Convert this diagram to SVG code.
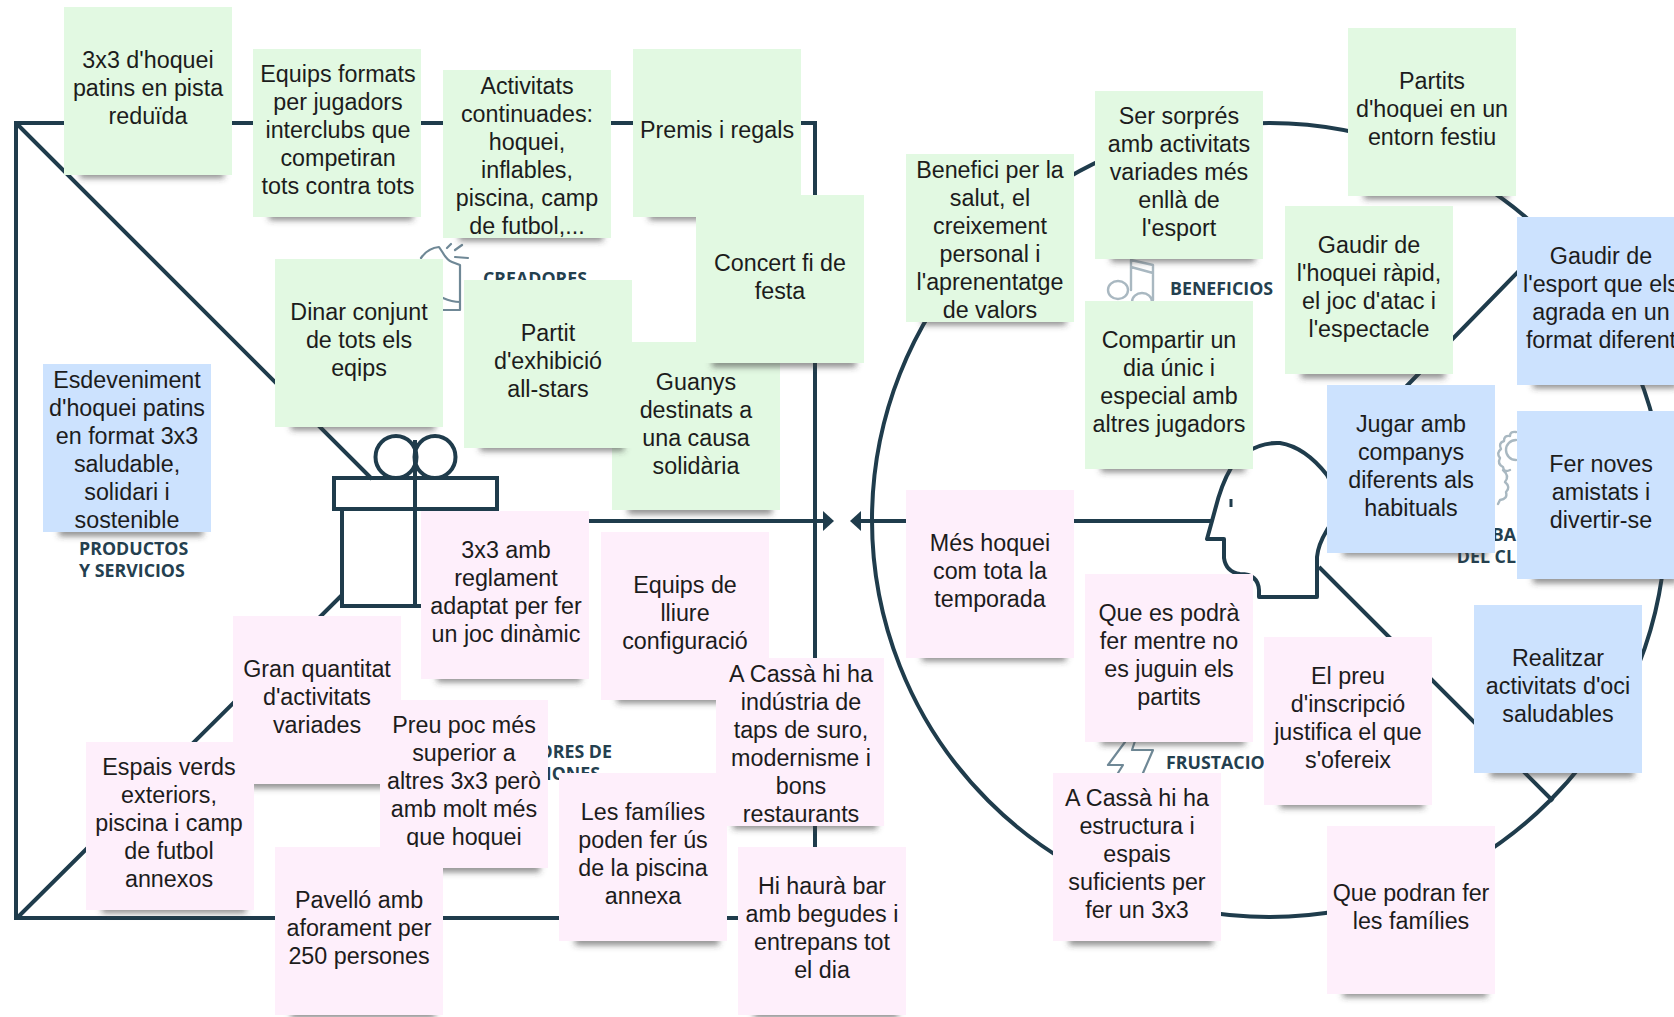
<svg xmlns="http://www.w3.org/2000/svg" width="1674" height="1017" viewBox="0 0 1674 1017">
<style>
.bg{fill:#fff}
.ln{fill:none;stroke:#1f3c4c;stroke-width:4}
.ic{fill:none;stroke:#6f8896;stroke-width:2.2;stroke-linecap:round;stroke-linejoin:round}
.ic2{fill:none;stroke:#a9b8c1;stroke-width:2.4;stroke-linecap:round;stroke-linejoin:round}
.lb{font-family:"Open Sans","Liberation Sans",sans-serif;font-weight:700;font-size:17.8px;fill:#24404f}
.g{fill:#e2f9e2}.b{fill:#cce2fe}.p{fill:#feeffb}
.sh{fill:#3c3c3c;fill-opacity:.62;filter:url(#bl)}
.t{font-family:"Liberation Sans",Arial,sans-serif;font-size:23.3px;fill:#1c1c1c;text-anchor:middle}
</style>
<defs>
<filter id="bl" x="-10%" y="-100%" width="120%" height="300%"><feGaussianBlur stdDeviation="3"/></filter>
<marker id="ah" markerUnits="userSpaceOnUse" markerWidth="14" markerHeight="24" refX="1" refY="12" orient="auto"><path d="M0 2L11 12L0 22Z" fill="#1f3c4c"/></marker>
</defs>
<rect class="bg" width="1674" height="1017"/>
<g id="connectors">
<rect class="ln" x="16" y="123" width="799" height="795"/>
<path class="ln" d="M18 125L372 479M18 917L342 595"/>
<circle class="ln" cx="1269" cy="520" r="397"/>
<path class="ln" d="M1395 398L1550 239M1319 567L1553 801"/>
<path class="ln" d="M490 521H824" marker-end="url(#ah)"/>
<path class="ln" d="M1212 521H860" marker-end="url(#ah)"/>
</g>
<g id="gift-icon">
<ellipse class="ln" cx="396" cy="457" rx="20.5" ry="21"/>
<ellipse class="ln" cx="435" cy="457" rx="20.5" ry="21"/>
<rect class="ln" x="334" y="478" width="163" height="31" fill="#fff"/>
<rect class="ln" x="342" y="509" width="146" height="97"/>
<path class="ln" d="M415 440V606"/>
</g>
<g id="head-icon">
<path class="ln" d="M1212 521L1207 539H1224V558Q1226 572 1240 574Q1258 574 1259 590V597H1317V557Q1318 545 1327 530Q1345 505 1327 475Q1305 447 1280 443Q1262 442 1245 453Q1234 460 1231 468C1225 478 1220 490 1215 510Z" stroke-linejoin="round"/>
<path d="M1231 499V507" stroke="#1f3c4c" stroke-width="3" fill="none"/>
</g>
<g id="section-labels">
<path class="ic" d="M421 258Q428 248 439 247L443 253Q447 260 452 262L460 265V310H443M443 298Q452 302 460 302M447 248L451 244M455 250L462 245M455 257L468 258"/>
<text class="lb" x="483" y="285">CREADORES</text>
<path class="ic2" d="M1131 290V260L1153 265V300M1131 267L1153 273M1128 290a10 9 0 1 1-20 0a10 9 0 1 1 20 0M1132 302a10 9 0 0 1 20 0"/>
<text class="lb" x="1170" y="295">BENEFICIOS</text>
<text class="lb" x="79" y="555">PRODUCTOS</text>
<text class="lb" x="79" y="577">Y SERVICIOS</text>
<text class="lb" x="612" y="758" text-anchor="end">ORES DE</text>
<text class="lb" x="600" y="780" text-anchor="end">IONES</text>
<path class="ic" d="M1125 742L1108 765H1123L1118 773M1135 741L1132 750H1153L1143 773"/>
<text class="lb" x="1166" y="769">FRUSTACIO</text>
<path class="ic2" d="M1516 432Q1510 431 1510 436Q1504 435 1504 441Q1498 443 1501 449Q1496 453 1500 458Q1497 464 1503 467Q1504 473 1510 470M1516 440a10 10 0 0 0 0 20M1503 470Q1510 476 1505 482Q1511 487 1506 492Q1508 499 1500 500L1498 504"/>
<text class="lb" x="1516" y="541" text-anchor="end">BA</text>
<text class="lb" x="1516" y="563" text-anchor="end">DEL CL</text>
</g>
<g id="n-guanys"><rect class="sh" x="628" y="506" width="144" height="8"/><rect class="g" x="612" y="342" width="168" height="168"/><text class="t" y="390"><tspan x="696">Guanys</tspan><tspan x="696" dy="28">destinats a</tspan><tspan x="696" dy="28">una causa</tspan><tspan x="696" dy="28">solidària</tspan></text></g>
<g id="n-3x3"><rect class="sh" x="80" y="170" width="144" height="8"/><rect class="g" x="64" y="7" width="168" height="168"/><text class="t" y="68"><tspan x="148">3x3 d'hoquei</tspan><tspan x="148" dy="28">patins en pista</tspan><tspan x="148" dy="28">reduïda</tspan></text></g>
<g id="n-equips"><rect class="sh" x="269" y="212" width="144" height="8"/><rect class="g" x="253" y="49" width="168" height="168"/><text class="t" y="82"><tspan x="338">Equips formats</tspan><tspan x="338" dy="28">per jugadors</tspan><tspan x="338" dy="28">interclubs que</tspan><tspan x="338" dy="28">competiran</tspan><tspan x="338" dy="28">tots contra tots</tspan></text></g>
<g id="n-activitats"><rect class="sh" x="459" y="233" width="144" height="8"/><rect class="g" x="443" y="70" width="168" height="168"/><text class="t" y="94"><tspan x="527">Activitats</tspan><tspan x="527" dy="28">continuades:</tspan><tspan x="527" dy="28">hoquei,</tspan><tspan x="527" dy="28">inflables,</tspan><tspan x="527" dy="28">piscina, camp</tspan><tspan x="527" dy="28">de futbol,...</tspan></text></g>
<g id="n-premis"><rect class="sh" x="649" y="212" width="144" height="8"/><rect class="g" x="633" y="49" width="168" height="168"/><text class="t" x="717" y="138">Premis i regals</text></g>
<g id="n-concert"><rect class="sh" x="712" y="359" width="144" height="8"/><rect class="g" x="696" y="195" width="168" height="168"/><text class="t" y="271"><tspan x="780">Concert fi de</tspan><tspan x="780" dy="28">festa</tspan></text></g>
<g id="n-dinar"><rect class="sh" x="291" y="422" width="144" height="8"/><rect class="g" x="275" y="259" width="168" height="168"/><text class="t" y="320"><tspan x="359">Dinar conjunt</tspan><tspan x="359" dy="28">de tots els</tspan><tspan x="359" dy="28">eqips</tspan></text></g>
<g id="n-partit"><rect class="sh" x="480" y="443" width="144" height="8"/><rect class="g" x="464" y="280" width="168" height="168"/><text class="t" y="341"><tspan x="548">Partit</tspan><tspan x="548" dy="28">d'exhibició</tspan><tspan x="548" dy="28">all-stars</tspan></text></g>
<g id="n-esdeveniment"><rect class="sh" x="59" y="528" width="144" height="8"/><rect class="b" x="43" y="364" width="168" height="168"/><text class="t" y="388"><tspan x="127">Esdeveniment</tspan><tspan x="127" dy="28">d'hoquei patins</tspan><tspan x="127" dy="28">en format 3x3</tspan><tspan x="127" dy="28">saludable,</tspan><tspan x="127" dy="28">solidari i</tspan><tspan x="127" dy="28">sostenible</tspan></text></g>
<g id="n-reglament"><rect class="sh" x="437" y="674" width="144" height="8"/><rect class="p" x="421" y="511" width="168" height="168"/><text class="t" y="558"><tspan x="506">3x3 amb</tspan><tspan x="506" dy="28">reglament</tspan><tspan x="506" dy="28">adaptat per fer</tspan><tspan x="506" dy="28">un joc dinàmic</tspan></text></g>
<g id="n-lliure"><rect class="sh" x="617" y="695" width="144" height="8"/><rect class="p" x="601" y="532" width="168" height="168"/><text class="t" y="593"><tspan x="685">Equips de</tspan><tspan x="685" dy="28">lliure</tspan><tspan x="685" dy="28">configuració</tspan></text></g>
<g id="n-gran"><rect class="sh" x="249" y="780" width="144" height="8"/><rect class="p" x="233" y="616" width="168" height="168"/><text class="t" y="677"><tspan x="317">Gran quantitat</tspan><tspan x="317" dy="28">d'activitats</tspan><tspan x="317" dy="28">variades</tspan></text></g>
<g id="n-preu"><rect class="sh" x="396" y="864" width="144" height="8"/><rect class="p" x="380" y="700" width="168" height="168"/><text class="t" y="733"><tspan x="464">Preu poc més</tspan><tspan x="464" dy="28">superior a</tspan><tspan x="464" dy="28">altres 3x3 però</tspan><tspan x="464" dy="28">amb molt més</tspan><tspan x="464" dy="28">que hoquei</tspan></text></g>
<g id="n-cassa1"><rect class="sh" x="733" y="821" width="144" height="8"/><rect class="p" x="716" y="658" width="168" height="168"/><text class="t" y="682"><tspan x="801">A Cassà hi ha</tspan><tspan x="801" dy="28">indústria de</tspan><tspan x="801" dy="28">taps de suro,</tspan><tspan x="801" dy="28">modernisme i</tspan><tspan x="801" dy="28">bons</tspan><tspan x="801" dy="28">restaurants</tspan></text></g>
<g id="n-espais"><rect class="sh" x="102" y="905" width="144" height="8"/><rect class="p" x="86" y="742" width="168" height="168"/><text class="t" y="775"><tspan x="169">Espais verds</tspan><tspan x="169" dy="28">exteriors,</tspan><tspan x="169" dy="28">piscina i camp</tspan><tspan x="169" dy="28">de futbol</tspan><tspan x="169" dy="28">annexos</tspan></text></g>
<g id="n-pavello"><rect class="sh" x="291" y="1010" width="144" height="8"/><rect class="p" x="275" y="847" width="168" height="168"/><text class="t" y="908"><tspan x="359">Pavelló amb</tspan><tspan x="359" dy="28">aforament per</tspan><tspan x="359" dy="28">250 persones</tspan></text></g>
<g id="n-families"><rect class="sh" x="575" y="937" width="144" height="8"/><rect class="p" x="559" y="773" width="168" height="168"/><text class="t" y="820"><tspan x="643">Les famílies</tspan><tspan x="643" dy="28">poden fer ús</tspan><tspan x="643" dy="28">de la piscina</tspan><tspan x="643" dy="28">annexa</tspan></text></g>
<g id="n-bar"><rect class="sh" x="754" y="1010" width="144" height="8"/><rect class="p" x="738" y="847" width="168" height="168"/><text class="t" y="894"><tspan x="822">Hi haurà bar</tspan><tspan x="822" dy="28">amb begudes i</tspan><tspan x="822" dy="28">entrepans tot</tspan><tspan x="822" dy="28">el dia</tspan></text></g>
<g id="n-benefici"><rect class="sh" x="922" y="317" width="144" height="8"/><rect class="g" x="906" y="154" width="168" height="168"/><text class="t" y="178"><tspan x="990">Benefici per la</tspan><tspan x="990" dy="28">salut, el</tspan><tspan x="990" dy="28">creixement</tspan><tspan x="990" dy="28">personal i</tspan><tspan x="990" dy="28">l'aprenentatge</tspan><tspan x="990" dy="28">de valors</tspan></text></g>
<g id="n-sorpres"><rect class="sh" x="1111" y="254" width="144" height="8"/><rect class="g" x="1095" y="91" width="168" height="168"/><text class="t" y="124"><tspan x="1179">Ser sorprés</tspan><tspan x="1179" dy="28">amb activitats</tspan><tspan x="1179" dy="28">variades més</tspan><tspan x="1179" dy="28">enllà de</tspan><tspan x="1179" dy="28">l'esport</tspan></text></g>
<g id="n-festiu"><rect class="sh" x="1364" y="191" width="144" height="8"/><rect class="g" x="1348" y="28" width="168" height="168"/><text class="t" y="89"><tspan x="1432">Partits</tspan><tspan x="1432" dy="28">d'hoquei en un</tspan><tspan x="1432" dy="28">entorn festiu</tspan></text></g>
<g id="n-rapid"><rect class="sh" x="1301" y="370" width="144" height="8"/><rect class="g" x="1285" y="206" width="168" height="168"/><text class="t" y="253"><tspan x="1369">Gaudir de</tspan><tspan x="1369" dy="28">l'hoquei ràpid,</tspan><tspan x="1369" dy="28">el joc d'atac i</tspan><tspan x="1369" dy="28">l'espectacle</tspan></text></g>
<g id="n-compartir"><rect class="sh" x="1101" y="464" width="144" height="8"/><rect class="g" x="1085" y="301" width="168" height="168"/><text class="t" y="348"><tspan x="1169">Compartir un</tspan><tspan x="1169" dy="28">dia únic i</tspan><tspan x="1169" dy="28">especial amb</tspan><tspan x="1169" dy="28">altres jugadors</tspan></text></g>
<g id="n-esport"><rect class="sh" x="1533" y="380" width="144" height="8"/><rect class="b" x="1517" y="217" width="168" height="168"/><text class="t" y="264"><tspan x="1601">Gaudir de</tspan><tspan x="1601" dy="28">l'esport que els</tspan><tspan x="1601" dy="28">agrada en un</tspan><tspan x="1601" dy="28">format diferent</tspan></text></g>
<g id="n-jugar"><rect class="sh" x="1343" y="548" width="144" height="8"/><rect class="b" x="1327" y="385" width="168" height="168"/><text class="t" y="432"><tspan x="1411">Jugar amb</tspan><tspan x="1411" dy="28">companys</tspan><tspan x="1411" dy="28">diferents als</tspan><tspan x="1411" dy="28">habituals</tspan></text></g>
<g id="n-amistats"><rect class="sh" x="1533" y="575" width="144" height="8"/><rect class="b" x="1517" y="411" width="168" height="168"/><text class="t" y="472"><tspan x="1601">Fer noves</tspan><tspan x="1601" dy="28">amistats i</tspan><tspan x="1601" dy="28">divertir-se</tspan></text></g>
<g id="n-mes"><rect class="sh" x="922" y="653" width="144" height="8"/><rect class="p" x="906" y="490" width="168" height="168"/><text class="t" y="551"><tspan x="990">Més hoquei</tspan><tspan x="990" dy="28">com tota la</tspan><tspan x="990" dy="28">temporada</tspan></text></g>
<g id="n-podra"><rect class="sh" x="1101" y="737" width="144" height="8"/><rect class="p" x="1085" y="574" width="168" height="168"/><text class="t" y="621"><tspan x="1169">Que es podrà</tspan><tspan x="1169" dy="28">fer mentre no</tspan><tspan x="1169" dy="28">es juguin els</tspan><tspan x="1169" dy="28">partits</tspan></text></g>
<g id="n-inscripcio"><rect class="sh" x="1280" y="800" width="144" height="8"/><rect class="p" x="1264" y="637" width="168" height="168"/><text class="t" y="684"><tspan x="1348">El preu</tspan><tspan x="1348" dy="28">d'inscripció</tspan><tspan x="1348" dy="28">justifica el que</tspan><tspan x="1348" dy="28">s'ofereix</tspan></text></g>
<g id="n-realitzar"><rect class="sh" x="1490" y="769" width="144" height="8"/><rect class="b" x="1474" y="605" width="168" height="168"/><text class="t" y="666"><tspan x="1558">Realitzar</tspan><tspan x="1558" dy="28">activitats d'oci</tspan><tspan x="1558" dy="28">saludables</tspan></text></g>
<g id="n-cassa2"><rect class="sh" x="1069" y="937" width="144" height="8"/><rect class="p" x="1053" y="773" width="168" height="168"/><text class="t" y="806"><tspan x="1137">A Cassà hi ha</tspan><tspan x="1137" dy="28">estructura i</tspan><tspan x="1137" dy="28">espais</tspan><tspan x="1137" dy="28">suficients per</tspan><tspan x="1137" dy="28">fer un 3x3</tspan></text></g>
<g id="n-podran"><rect class="sh" x="1343" y="989" width="144" height="8"/><rect class="p" x="1327" y="826" width="168" height="168"/><text class="t" y="901"><tspan x="1411">Que podran fer</tspan><tspan x="1411" dy="28">les famílies</tspan></text></g>
</svg>
